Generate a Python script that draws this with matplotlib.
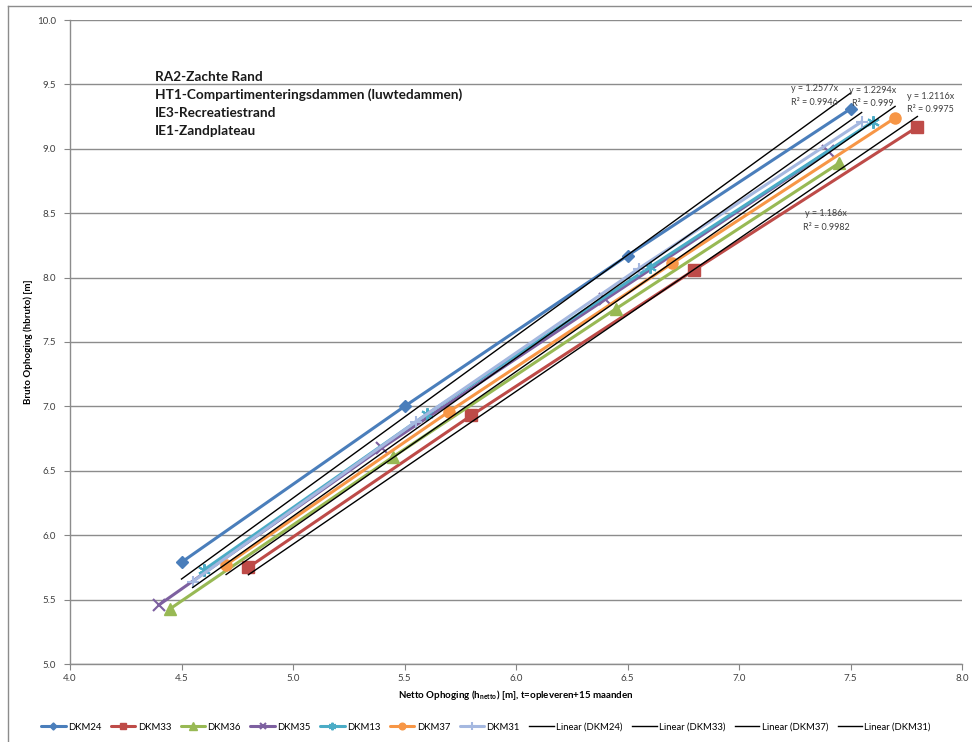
import matplotlib
matplotlib.use('Agg')
import matplotlib.pyplot as plt
from matplotlib.lines import Line2D
import numpy as np

plt.rcParams['font.family'] = ['Lato', 'DejaVu Sans']

# ── Meetreeksen: netto (x) vs bruto (y) ophoging per DKM ─────────────────────
SERIES   = ['DKM24', 'DKM33', 'DKM36', 'DKM35', 'DKM13', 'DKM37', 'DKM31']
X_DKM24  = [4.50, 5.50, 6.50, 7.50]
Y_DKM24  = [5.79, 7.00, 8.17, 9.31]
X_DKM33  = [4.80, 5.80, 6.80, 7.80]
Y_DKM33  = [5.75, 6.93, 8.06, 9.17]
X_DKM36  = [4.45, 5.45, 6.45, 7.45]
Y_DKM36  = [5.43, 6.61, 7.76, 8.89]
X_DKM35  = [4.40, 5.40, 6.40, 7.40]
Y_DKM35  = [5.46, 6.68, 7.83, 8.98]
X_DKM13  = [4.60, 5.60, 6.60, 7.60]
Y_DKM13  = [5.73, 6.94, 8.08, 9.21]
X_DKM37  = [4.70, 5.70, 6.70, 7.70]
Y_DKM37  = [5.77, 6.96, 8.11, 9.24]
X_DKM31  = [4.55, 5.55, 6.55, 7.55]
Y_DKM31  = [5.64, 6.88, 8.07, 9.21]

# Trendlijnen door de oorsprong (y = a·x)
TREND_SERIES = ['DKM24', 'DKM33', 'DKM37', 'DKM31']
TREND_SLOPE  = [1.2577, 1.186, 1.2116, 1.2294]
TREND_R2     = ['0.9946', '0.9982', '0.9975', '0.999']

HEADER_LINES = ['RA2-Zachte Rand',
                'HT1-Compartimenteringsdammen (luwtedammen)',
                'IE3-Recreatiestrand',
                'IE1-Zandplateau']

DATA = {
    'DKM24': (X_DKM24, Y_DKM24), 'DKM33': (X_DKM33, Y_DKM33),
    'DKM36': (X_DKM36, Y_DKM36), 'DKM35': (X_DKM35, Y_DKM35),
    'DKM13': (X_DKM13, Y_DKM13), 'DKM37': (X_DKM37, Y_DKM37),
    'DKM31': (X_DKM31, Y_DKM31),
}

STYLE = {
    'DKM24': dict(color='#4A7EBB', marker='D', ms=6),
    'DKM33': dict(color='#BE4B48', marker='s', ms=8),
    'DKM36': dict(color='#98B954', marker='^', ms=9),
    'DKM35': dict(color='#7D60A0', marker='x', ms=8, mew=1.5),
    'DKM13': dict(color='#4BACC6', marker=(6, 2, 0), ms=9, mew=1.5),
    'DKM37': dict(color='#F79646', marker='o', ms=8),
    'DKM31': dict(color='#A5B8E0', marker='+', ms=9, mew=1.5),
}

# equation label positions (data coords, top-centre) per trendline
EQ_POS = {'DKM24': (7.34, 9.50), 'DKM31': (7.60, 9.49),
          'DKM37': (7.86, 9.44), 'DKM33': (7.39, 8.53)}

fig = plt.figure(figsize=(9.72, 7.42), dpi=100)
ax = fig.add_axes([70 / 972, 1 - 664 / 742, 892 / 972, 644 / 742])

for name in SERIES:
    xs, ys = DATA[name]
    st = STYLE[name]
    ax.plot(xs, ys, color=st['color'], lw=2.2, marker=st['marker'],
            ms=st['ms'], mew=st.get('mew', 1.0), mec=st['color'],
            mfc=st['color'], label=name, zorder=3, solid_capstyle='round')

for name, a, r2 in zip(TREND_SERIES, TREND_SLOPE, TREND_R2):
    xs, _ = DATA[name]
    xt = np.array([min(xs), max(xs)])
    ax.plot(xt, a * xt, color='black', lw=1.0, zorder=4,
            label=f'Linear ({name})')
    ex, ey = EQ_POS[name]
    ax.text(ex, ey, f'y = {a:g}x\nR² = {r2}', fontsize=6.5, color='#404040',
            ha='center', va='top', linespacing=1.6, zorder=5)

ax.set_xlim(4.0, 8.0)
ax.set_ylim(5.0, 10.0)
ax.set_xticks(np.arange(4.0, 8.01, 0.5))
ax.set_yticks(np.arange(5.0, 10.01, 0.5))
ax.xaxis.set_major_formatter(matplotlib.ticker.FormatStrFormatter('%.1f'))
ax.yaxis.set_major_formatter(matplotlib.ticker.FormatStrFormatter('%.1f'))
ax.tick_params(axis='both', labelsize=7, color='#868686', length=4,
               direction='out', labelcolor='#404040', pad=3)
ax.tick_params(axis='y', pad=6)
ax.yaxis.grid(True, color='#8C8C8C', lw=1.0)
ax.set_axisbelow(True)
for side in ('top', 'right'):
    ax.spines[side].set_visible(False)
for side in ('left', 'bottom'):
    ax.spines[side].set_color('#8C8C8C')
    ax.spines[side].set_linewidth(1.0)

ax.set_xlabel(r'Netto Ophoging (h$_{\mathregular{netto}}$) [m], t=opleveren+15 maanden',
              fontsize=7, fontweight='bold', labelpad=4)
ax.set_ylabel('Bruto Ophoging (hbruto) [m]', fontsize=7, fontweight='bold',
              labelpad=3)

for i, line in enumerate(HEADER_LINES):
    fig.text(155 / 972, 1 - (77 + 18 * i) / 742, line, fontsize=9.8,
             fontweight='bold', color='#1a1a1a', va='center', ha='left')

handles, labels = ax.get_legend_handles_labels()
fig.legend(handles, labels, loc='center', bbox_to_anchor=(0.5, 1 - 727 / 742),
           ncol=11, frameon=False, fontsize=6.8, handlelength=2.6,
           columnspacing=1.0, handletextpad=0.25, markerscale=0.6)

# chart area border
fig.add_artist(Line2D([8 / 972, 8 / 972], [0, 1 - 6 / 742], color='#8C8C8C',
                      lw=1.0, transform=fig.transFigure))
fig.add_artist(Line2D([8 / 972, 1], [1 - 6 / 742, 1 - 6 / 742], color='#8C8C8C',
                      lw=1.0, transform=fig.transFigure))

fig.savefig('out.png', dpi=100)
